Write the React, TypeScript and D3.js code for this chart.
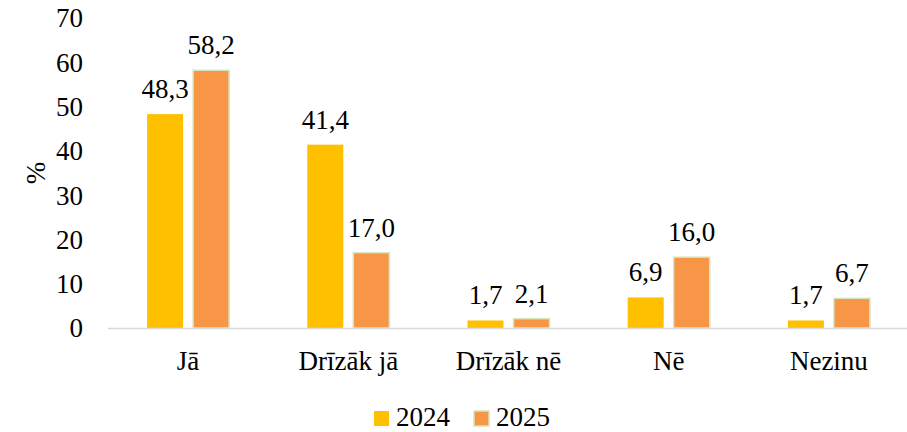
import React from "react";
import * as d3 from "d3";

const categories = ["Jā", "Drīzāk jā", "Drīzāk nē", "Nē", "Nezinu"];
const series2024 = [48.3, 41.4, 1.7, 6.9, 1.7];
const series2025 = [58.2, 17.0, 2.1, 16.0, 6.7];
const seriesNames = ["2024", "2025"];
const yTicks = [0, 10, 20, 30, 40, 50, 60, 70];

const W = 907;
const H = 432;
const FONT = "Liberation Serif";
const colors = ["#FFC000", "#F79646"];
const strokes = ["none", "#D7E4BD"];

export default function App() {
  const x = d3.scaleBand<string>().domain(categories).range([108, 909]).paddingInner(0).paddingOuter(0);
  const y = d3.scaleLinear().domain([0, 70]).range([328, 18]);
  const barW = 36;
  const offsets = [-23, 23];
  const all = [series2024, series2025];
  const fmt = (v: number) => v.toFixed(1).replace(".", ",");
  const ts = { fontFamily: FONT, fontSize: "27px" };

  return (
    <svg width={W} height={H} style={{ position: "absolute", left: 0, top: 0, background: "#fff" }}>
      {yTicks.map((t) => (
        <text key={t} x={83} y={y(t)} dy="0.35em" textAnchor="end" style={ts} fill="#000">
          {t}
        </text>
      ))}
      <text transform={`translate(36,${y(35)}) rotate(-90)`} textAnchor="middle" dy="0.35em" style={ts}>
        %
      </text>
      {all.map((vals, si) =>
        vals.map((v, i) => {
          const cx = (x(categories[i]) as number) + x.bandwidth() / 2 + offsets[si];
          return (
            <g key={`${si}-${i}`}>
              <rect
                x={cx - barW / 2}
                y={y(v)}
                width={barW}
                height={y(0) - y(v)}
                fill={colors[si]}
                stroke={strokes[si]}
                strokeWidth={si === 1 ? 1.5 : 0}
              />
              <text x={cx} y={y(v) - 16} textAnchor="middle" style={ts} fill="#000">
                {fmt(v)}
              </text>
            </g>
          );
        })
      )}
      <line x1={108} x2={907} y1={y(0) + 0.5} y2={y(0) + 0.5} stroke="#D9D9D9" strokeWidth={1.5} />
      {categories.map((c) => (
        <text key={c} x={(x(c) as number) + x.bandwidth() / 2} y={370} textAnchor="middle" style={ts} fill="#000">
          {c}
        </text>
      ))}
      {seriesNames.map((s, i) => {
        const lx = 374 + i * 100;
        return (
          <g key={s}>
            <rect x={lx} y={411} width={15} height={15} fill={colors[i]} stroke={strokes[i]} strokeWidth={i === 1 ? 1.5 : 0} />
            <text x={lx + 22} y={426} style={ts} fill="#000">
              {s}
            </text>
          </g>
        );
      })}
    </svg>
  );
}
